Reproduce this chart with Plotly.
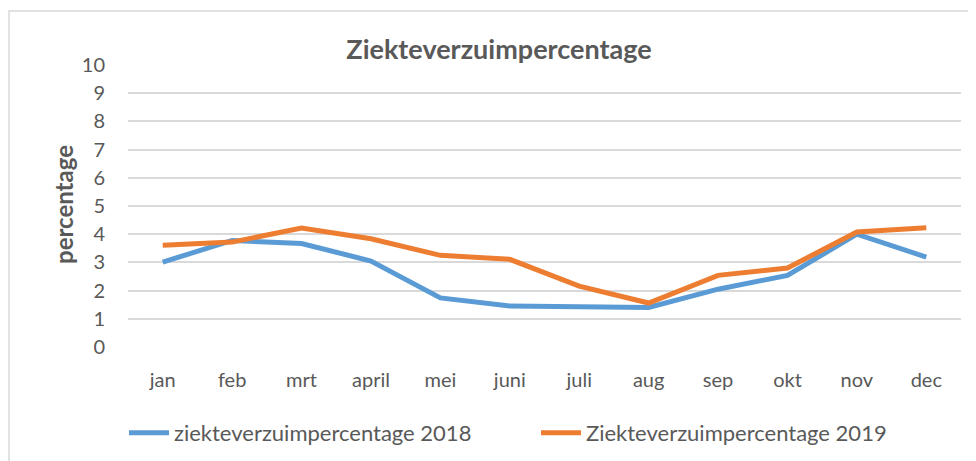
import plotly.graph_objects as go

months = ["jan", "feb", "mrt", "april", "mei", "juni", "juli", "aug", "sep", "okt", "nov", "dec"]
values_2018 = [3.01, 3.78, 3.67, 3.05, 1.74, 1.45, 1.43, 1.40, 2.05, 2.54, 4.00, 3.19]
values_2019 = [3.61, 3.72, 4.22, 3.84, 3.25, 3.11, 2.16, 1.56, 2.54, 2.80, 4.08, 4.23]
series_names = ["ziekteverzuimpercentage 2018", "Ziekteverzuimpercentage 2019"]
title_text = "Ziekteverzuimpercentage"
y_title = "percentage"

FONT = "Lato, 'Open Sans', sans-serif"
GREY = "#595959"

fig = go.Figure()
fig.add_trace(go.Scatter(x=months, y=values_2018, mode="lines", name=series_names[0],
                         line=dict(color="#5B9BD5", width=5)))
fig.add_trace(go.Scatter(x=months, y=values_2019, mode="lines", name=series_names[1],
                         line=dict(color="#ED7D31", width=5)))

# page body adds an 8px offset; layout coordinates below are screen minus 8
OFF = 8
L, R, T, B = 120, 15, 57, 114
W, H = 968, 453
pw, ph = W - L - R, H - T - B


def px(sx):
    return (sx - OFF - L) / pw


def py(sy):
    return (H - B - (sy - OFF)) / ph


fig.update_layout(
    width=W, height=H,
    margin=dict(l=L, r=R, t=T, b=B, autoexpand=False),
    paper_bgcolor="white", plot_bgcolor="white",
    font=dict(family=FONT, color=GREY, size=20),
    title=dict(text="<b>" + title_text + "</b>", x=(499 - OFF) / W, xanchor="center",
               y=1 - (50 - OFF) / H, yanchor="middle",
               font=dict(family=FONT, size=27, color=GREY)),
    showlegend=True,
    legend=dict(orientation="h", x=px(124), xanchor="left",
                y=py(433), yanchor="middle",
                font=dict(size=22, color=GREY), entrywidth=357, entrywidthmode="pixels",
                itemwidth=40),
    xaxis=dict(showgrid=False, showline=False, zeroline=False, ticks="",
               range=[-0.5, 11.5],
               tickfont=dict(size=20, color=GREY), ticklabelstandoff=19),
    yaxis=dict(range=[0, 10], dtick=1, showgrid=True, gridcolor="#D9D9D9", gridwidth=1.5,
               zeroline=False, showline=False, ticks="",
               tickfont=dict(size=20, color=GREY), ticklabelstandoff=22),
    annotations=[dict(text="<b>" + y_title + "</b>", xref="paper", yref="paper",
                      x=px(63), y=py(205), textangle=-90,
                      showarrow=False, font=dict(size=24, color=GREY, family=FONT),
                      xanchor="center", yanchor="middle")],
    shapes=[dict(type="rect", xref="paper", yref="paper",
                 x0=px(9), x1=px(1000),
                 y0=py(490), y1=py(11),
                 line=dict(color="#D9D9D9", width=1.5), fillcolor="rgba(0,0,0,0)", layer="below")],
)

fig.write_html("out.html")
